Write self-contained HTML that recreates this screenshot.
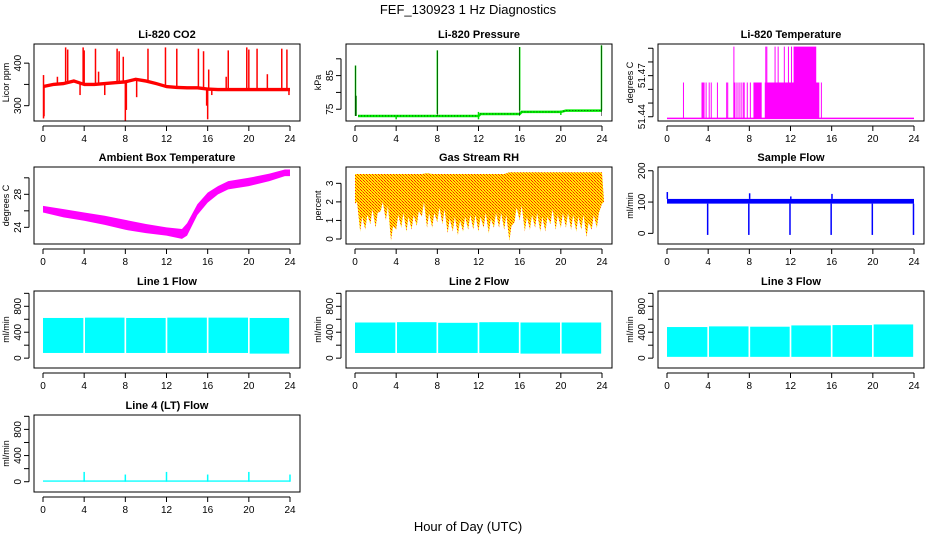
<!DOCTYPE html>
<html><head><meta charset="utf-8"><style>
html,body{margin:0;padding:0;background:#fff;}
svg{display:block;font-family:"Liberation Sans",Arial,sans-serif;}
</style></head><body>
<svg id="c" width="936" height="540" viewBox="0 0 936 540">
<defs>
<pattern id="rhpat" width="3" height="3" patternUnits="userSpaceOnUse">
<rect width="3" height="3" fill="#ffee00"/>
<rect x="0" y="0" width="1" height="1" fill="#ff2000"/>
<rect x="1" y="1" width="1" height="1" fill="#ff2000"/>
<rect x="2" y="2" width="1" height="1" fill="#ff6000"/>
</pattern>
</defs>
<text x="468" y="14" text-anchor="middle" font-size="13">FEF_130923  1 Hz Diagnostics</text>
<text x="468" y="531" text-anchor="middle" font-size="13">Hour of Day (UTC)</text>
</svg>
<script>
// ---- data ----
const xTicks = [0,4,8,12,16,20,24];
const co2BaseT = [0,1,2,3,4,5,6,7,8,9,10,11,12,13,14,15,16,17,18,19,20,21,22,23,24];
const co2Base = [345,350,352,358,350,350,352,354,356,362,358,352,345,343,342,342,339,338,338,338,338,338,338,338,338];
const co2UpT = [0.05,1.4,2.2,2.4,3.9,4.0,5.1,5.4,7.2,7.4,7.8,10.2,11.9,13.0,15.1,15.6,16.1,17.8,18.0,19.8,20.0,20.8,21.8,23.2,23.7];
const co2UpV = [372,368,437,432,437,430,434,380,434,428,415,434,437,434,434,428,385,368,430,437,432,434,374,434,432];
const co2DnT = [0.05,0.1,3.6,6.0,8.0,8.1,9.1,15.9,16.0,16.4,23.9];
const co2DnV = [270,275,325,325,265,290,320,300,268,325,325];

const presT = [0.3,4,8,12,12.2,16,16.2,20,20.5,24];
const presV = [73,73,73,73,73.6,73.6,74.2,74.2,74.6,74.6];
const presSpikeT = [0.05,0.1,8,16,23.95,4,12,20];
const presSpikeV = [88,79,92.5,93.5,94,72,72,73.3];

const ltempLevels = [51.4388,51.465,51.4912];
const ltempMidT = [1.6,3.4,3.5,3.6,3.8,4.1,4.3,4.9,5.8,5.9,6.5,6.6,6.8,7.0,7.2,7.4,7.5,7.8,8.1,15.0];
const ltempTopT = [6.5,9.6,9.7,10.5,10.8,11.4,11.8,12.1];
const ltempMidBlocks = [[8.4,9.2],[9.5,14.8]];
const ltempTopBlocks = [[12.3,14.5]];

const ambT = [0,2,4,6,8,10,12,13.5,14,15,16,17,18,20,22,23.5,24];
const ambLo = [25.8,25.2,24.8,24.3,23.7,23.3,23.0,22.6,23.0,25.5,27.0,28.0,28.6,29.0,29.6,30.2,30.2];
const ambHi = [26.6,26.2,25.8,25.4,24.9,24.4,24.0,23.8,24.5,26.8,28.2,29.0,29.6,30.0,30.5,31.0,31.0];

const rhT = [0,0.5,1,1.5,2,2.5,3,3.5,4,4.5,5,5.5,6,6.5,7,7.5,8,8.5,9,9.5,10,10.5,11,11.5,12,12.5,13,13.5,14,14.5,15,15.5,16,16.5,17,17.5,18,18.5,19,19.5,20,20.5,21,21.5,22,22.5,23,23.5,24];
const rhHi = [3.5,3.5,3.5,3.5,3.5,3.5,3.5,3.5,3.5,3.5,3.5,3.5,3.5,3.5,3.55,3.5,3.5,3.5,3.5,3.5,3.5,3.5,3.5,3.5,3.5,3.5,3.5,3.5,3.5,3.5,3.6,3.6,3.6,3.6,3.6,3.6,3.6,3.6,3.6,3.6,3.6,3.6,3.6,3.6,3.6,3.6,3.6,3.6,3.6];
const rhLo = [1.9,0.4,0.5,0.8,0.6,1.5,1.0,-0.1,0.5,0.6,0.4,0.5,0.7,1.2,0.6,0.6,0.9,0.8,0.3,0.4,0.2,0.4,0.5,0.5,0.4,0.6,0.3,0.6,0.6,0.5,-0.1,0.9,1.0,0.4,0.5,0.6,0.4,0.4,0.8,0.5,0.6,0.6,0.5,0.4,0.5,0.1,0.5,0.6,1.9];

const sfLo = 95, sfHi = 110;
const sfDipT = [4,8,12,16,20,24];
const sfDipV = [-5,-5,-5,-5,-5,-5];
const sfUpT = [0,8,12,16];
const sfUpV = [132,128,118,126];

const flowGapT = [4,8,12,16,20];
const line1Lo = [80,80,80,80,80,70], line1Hi = [620,625,620,625,625,620];
const line2Lo = [80,80,80,80,70,70], line2Hi = [550,555,545,555,550,550];
const line3Lo = [20,20,20,20,20,20], line3Hi = [480,490,485,505,510,520];
const line4Base = [0,20];
const line4SpikeT = [4,8,12,16,20,24];
const line4SpikeV = [150,110,150,110,150,110];

// ---- drawing ----
const NS = "http://www.w3.org/2000/svg";
const svg = document.getElementById('c');
function mk(tag, attrs, parent){const e=document.createElementNS(NS,tag);for(const k in attrs)e.setAttribute(k,attrs[k]);(parent||svg).appendChild(e);return e;}
const colL=[34,346,658], rowT=[44,167,291,415], W=266, H=77;

function panel(name,title,ylab,col,row,ymin,ymax,yt,ylabels){
  const g = mk('g',{});
  
  
  const x0=colL[col], y0=rowT[row];
  const sx=v=>x0+9+v*(247/24);
  const sy=v=>y0+H-(v-ymin)/(ymax-ymin)*H;
  const plot = mk('g',{},g);
  
  
  const box = mk('rect',{x:x0,y:y0,width:W,height:H,fill:'none',stroke:'#000','stroke-width':1},g);
  
  
  const t = mk('text',{x:x0+W/2,y:y0-6,'text-anchor':'middle','font-size':11,'font-weight':'bold'},g);
  t.textContent=title;
  
  
  // x axis
  const xa = mk('g',{},g);
  
  
  const by=y0+H;
  mk('line',{x1:sx(0),x2:sx(24),y1:by+5,y2:by+5,stroke:'#000'},xa);
  xTicks.forEach(v=>{
    mk('line',{x1:sx(v),x2:sx(v),y1:by+5,y2:by+10,stroke:'#000'},xa);
    const tl=mk('text',{x:sx(v),y:by+21,'text-anchor':'middle','font-size':10},xa);tl.textContent=v;
  });
  // y axis
  const ya = mk('g',{},g);
  
  
  mk('line',{x1:x0-5,x2:x0-5,y1:sy(yt[0]),y2:sy(yt[yt.length-1]),stroke:'#000'},ya);
  yt.forEach((v,i)=>{
    mk('line',{x1:x0-10,x2:x0-5,y1:sy(v),y2:sy(v),stroke:'#000'},ya);
    if(ylabels[i]!==''){const tl=mk('text',{x:x0-13,y:sy(v),'text-anchor':'middle','font-size':10,transform:`rotate(-90 ${x0-13} ${sy(v)})`},ya);tl.textContent=ylabels[i];}
  });
  const yl=mk('text',{x:x0-25,y:y0+H/2,'text-anchor':'middle','font-size':9,transform:`rotate(-90 ${x0-25} ${y0+H/2})`},g);
  yl.textContent=ylab;
  
  
  return {sx,sy,plot};
}
function vline(p,t,a,b,c,w){mk('line',{x1:p.sx(t),x2:p.sx(t),y1:p.sy(a),y2:p.sy(b),stroke:c,'stroke-width':w||1},p.plot);}
function band(p,T,lo,hi,fill){
  let pts=T.map((t,i)=>p.sx(t)+','+p.sy(hi[i]));
  for(let i=T.length-1;i>=0;i--)pts.push(p.sx(T[i])+','+p.sy(lo[i]));
  mk('polygon',{points:pts.join(' '),fill:fill,stroke:'none'},p.plot);
}

// CO2
let p=panel('co2','Li-820 CO2','Licor ppm',0,0,264,445,[300,350,400],['300','','400']);
band(p,co2BaseT,co2Base.map(v=>v-4),co2Base.map(v=>v+4),'#ff0000');
co2UpT.forEach((t,i)=>vline(p,t,co2Base[Math.min(24,Math.round(t))],co2UpV[i],'#ff0000',1.5));
co2DnT.forEach((t,i)=>vline(p,t,co2Base[Math.min(24,Math.round(t))],co2DnV[i],'#ff0000',1.5));

// Pressure
p=panel('pressure','Li-820 Pressure','kPa',1,0,71.5,94.4,[75,80,85,90],['75','','85','']);
mk('polyline',{points:presT.map((t,i)=>p.sx(t)+','+p.sy(presV[i])).join(' '),fill:'none',stroke:'#00ee00','stroke-width':2.5},p.plot);
mk('polyline',{points:presT.map((t,i)=>p.sx(t)+','+p.sy(presV[i])).join(' '),fill:'none',stroke:'#000','stroke-width':0.7,'stroke-dasharray':'1 2'},p.plot);
presSpikeT.forEach((t,i)=>{vline(p,t,presV[Math.min(presV.length-1,Math.floor(t/4)*2)]||73,presSpikeV[i],'#00dd00',1.5);});
presSpikeT.slice(0,5).forEach((t,i)=>vline(p,t,73,presSpikeV[i],'#000',0.5));

// Li-820 temp
p=panel('li820-temp','Li-820 Temperature','degrees C',2,0,51.4369,51.4931,[51.44,51.45,51.46,51.47,51.48,51.49],['51.44','','','51.47','','']);
ltempMidBlocks.forEach(b=>mk('rect',{x:p.sx(b[0]),y:p.sy(ltempLevels[1]),width:p.sx(b[1])-p.sx(b[0]),height:p.sy(ltempLevels[0])-p.sy(ltempLevels[1]),fill:'#ff00ff'},p.plot));
ltempTopBlocks.forEach(b=>mk('rect',{x:p.sx(b[0]),y:p.sy(ltempLevels[2]),width:p.sx(b[1])-p.sx(b[0]),height:p.sy(ltempLevels[0])-p.sy(ltempLevels[2]),fill:'#ff00ff'},p.plot));
ltempMidT.forEach(t=>vline(p,t,ltempLevels[0],ltempLevels[1],'#ff00ff',1));
ltempTopT.forEach(t=>vline(p,t,ltempLevels[0],ltempLevels[2],'#ff00ff',1));
mk('line',{x1:p.sx(0),x2:p.sx(24),y1:p.sy(ltempLevels[0]),y2:p.sy(ltempLevels[0]),stroke:'#ff00ff','stroke-width':1.5},p.plot);

// Ambient
p=panel('ambient-temp','Ambient Box Temperature','degrees C',0,1,21.98,31.31,[24,26,28,30],['24','','28','']);
band(p,ambT,ambLo,ambHi,'#ff00ff');

// RH
p=panel('gas-rh','Gas Stream RH','percent',1,1,-0.27,3.88,[0,1,2,3],['0','1','2','3']);
let pts=[];
rhT.forEach((t,i)=>{pts.push(p.sx(t)+','+p.sy(rhHi[i]));});
for(let i=rhT.length-1;i>=0;i--){const t=rhT[i];pts.push(p.sx(t+0.2)+','+p.sy(Math.min(2,rhLo[i]+0.8)));pts.push(p.sx(t)+','+p.sy(rhLo[i]));}
mk('polygon',{points:pts.join(' '),fill:'url(#rhpat)'},p.plot);

// Sample flow
p=panel('sample-flow','Sample Flow','ml/min',2,1,-34,212,[0,100,200],['0','100','200']);
mk('rect',{x:p.sx(0),y:p.sy(sfHi),width:p.sx(24)-p.sx(0),height:p.sy(sfLo)-p.sy(sfHi),fill:'#0000ff'},p.plot);
sfDipT.forEach((t,i)=>vline(p,t-0.05,sfLo,sfDipV[i],'#0000ff',1.5));
sfUpT.forEach((t,i)=>vline(p,t+0.03,sfHi,sfUpV[i],'#0000ff',1.5));

// Line flows
const lineTicks=[0,200,400,600,800,1000], lineLabels=['0','','400','','800',''];
function flow(name,title,col,row,ymin,ymax,lo,hi){
  const q=panel(name,title,'ml/min',col,row,ymin,ymax,lineTicks,lineLabels);
  const bounds=[0].concat(flowGapT).concat([24]);
  for(let i=0;i<bounds.length-1;i++){
    const a=bounds[i]+(i?0.08:0), b=bounds[i+1]-0.08;
    mk('rect',{x:q.sx(a),y:q.sy(hi[i]),width:q.sx(b)-q.sx(a),height:q.sy(lo[i])-q.sy(hi[i]),fill:'#00ffff'},q.plot);
  }
  return q;
}
flow('line1-flow','Line 1 Flow',0,2,-152,1036,line1Lo,line1Hi);
flow('line2-flow','Line 2 Flow',1,2,-152,1036,line2Lo,line2Hi);
flow('line3-flow','Line 3 Flow',2,2,-152,1036,line3Lo,line3Hi);

p=panel('line4-flow','Line 4 (LT) Flow','ml/min',0,3,-157,1020,lineTicks,lineLabels);
mk('rect',{x:p.sx(0),y:p.sy(line4Base[1]),width:p.sx(24)-p.sx(0),height:p.sy(line4Base[0])-p.sy(line4Base[1]),fill:'#00ffff'},p.plot);
line4SpikeT.forEach((t,i)=>vline(p,t,0,line4SpikeV[i],'#00ffff',1.5));
</script>
</body></html>
